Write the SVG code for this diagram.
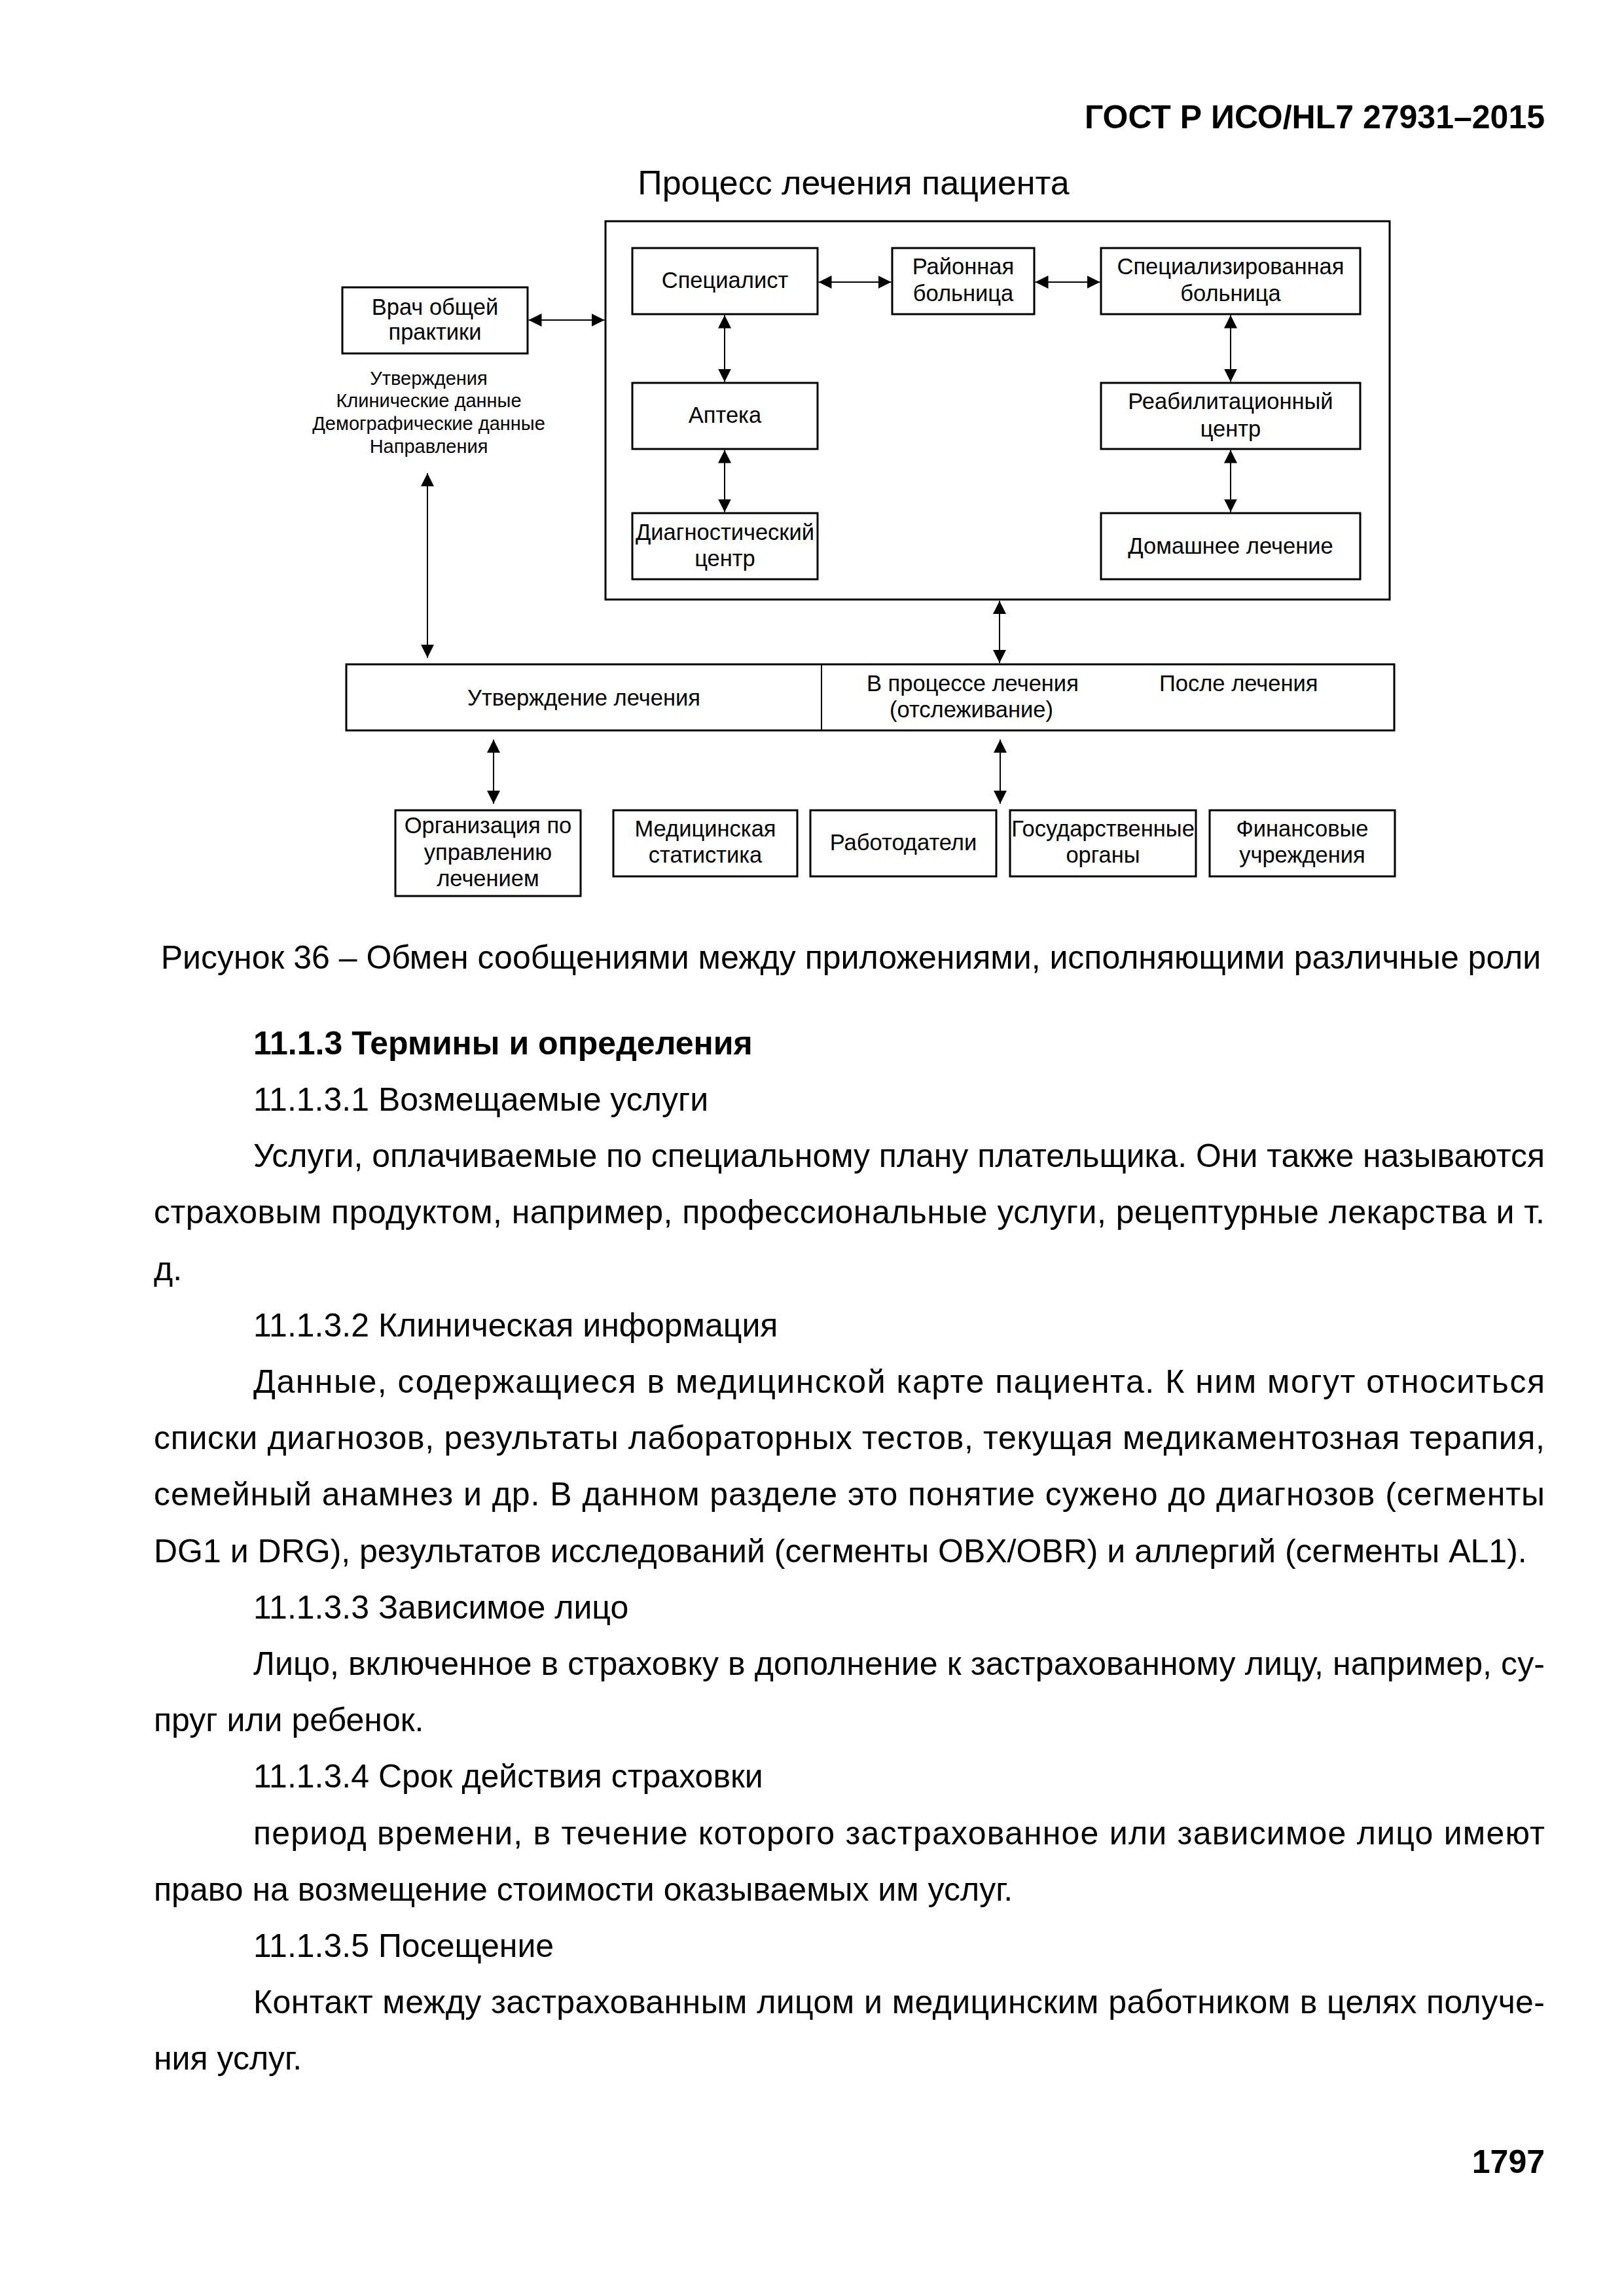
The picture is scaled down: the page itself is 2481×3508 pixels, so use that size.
<svg xmlns="http://www.w3.org/2000/svg" width="2481" height="3508" viewBox="0 0 2481 3508">
<style>
text{font-family:"Liberation Sans",Arial,sans-serif;fill:#000}
.d{font-size:34.5px;text-anchor:middle}
.ds{font-size:34.5px}
.lb{font-size:29px;text-anchor:middle}
.b{font-size:50px}
.bb{font-size:50px;font-weight:bold}
.box{fill:#fff;stroke:#000;stroke-width:3}
.c{stroke:#000;stroke-width:2;fill:none;marker-start:url(#ah);marker-end:url(#ah)}
</style>
<defs>
<marker id="ah" markerUnits="userSpaceOnUse" markerWidth="20" markerHeight="20" refX="20" refY="10" orient="auto-start-reverse" viewBox="0 0 20 20">
<path d="M0,0 L20,10 L0,20 z" fill="#000"/>
</marker>
</defs>
<rect width="2481" height="3508" fill="#fff"/>
<text class="bb" x="2360" y="196" text-anchor="end">ГОСТ Р ИСО/HL7 27931–2015</text>
<text x="1304" y="297" text-anchor="middle" style="font-size:52px">Процесс лечения пациента</text>

<g id="process">
<rect class="box" x="925" y="338" width="1198" height="578"/>
</g>
<g id="specialist"><rect class="box" x="966" y="379" width="283" height="101"/><text class="d" x="1107.5" y="440">Специалист</text></g>
<g id="district"><rect class="box" x="1363" y="379" width="217" height="101"/><text class="d" x="1471.5" y="419">Районная</text><text class="d" x="1471.5" y="460">больница</text></g>
<g id="specialized"><rect class="box" x="1682" y="379" width="396" height="101"/><text class="d" x="1880" y="419">Специализированная</text><text class="d" x="1880" y="460">больница</text></g>
<g id="pharmacy"><rect class="box" x="966" y="585" width="283" height="101"/><text class="d" x="1107.5" y="646">Аптека</text></g>
<g id="rehab"><rect class="box" x="1682" y="585" width="396" height="101"/><text class="d" x="1880" y="625">Реабилитационный</text><text class="d" x="1880" y="667">центр</text></g>
<g id="diag"><rect class="box" x="966" y="784" width="283" height="101"/><text class="d" x="1107.5" y="825">Диагностический</text><text class="d" x="1107.5" y="865">центр</text></g>
<g id="home"><rect class="box" x="1682" y="784" width="396" height="101"/><text class="d" x="1880" y="846">Домашнее лечение</text></g>
<g id="gp"><rect class="box" x="523" y="439" width="283" height="101"/><text class="d" x="664.5" y="481">Врач общей</text><text class="d" x="664.5" y="519">практики</text>
<text class="lb" x="655" y="588">Утверждения</text><text class="lb" x="655" y="622">Клинические данные</text><text class="lb" x="655" y="657">Демографические данные</text><text class="lb" x="655" y="692">Направления</text></g>
<g id="bar"><rect class="box" x="529" y="1015" width="1601" height="101"/><line x1="1255" y1="1015" x2="1255" y2="1116" stroke="#000" stroke-width="2"/>
<text class="d" x="892" y="1078">Утверждение лечения</text>
<text class="ds" x="1324" y="1056">В процессе лечения</text>
<text class="ds" x="1359" y="1096">(отслеживание)</text>
<text class="ds" x="1771" y="1056">После лечения</text></g>
<g id="org"><rect class="box" x="604" y="1238" width="283" height="131"/><text class="d" x="745.5" y="1273">Организация по</text><text class="d" x="745.5" y="1314">управлению</text><text class="d" x="745.5" y="1354">лечением</text></g>
<g id="stat"><rect class="box" x="937" y="1238" width="281" height="101"/><text class="d" x="1077.5" y="1278">Медицинская</text><text class="d" x="1077.5" y="1318">статистика</text></g>
<g id="employers"><rect class="box" x="1238" y="1238" width="284" height="101"/><text class="d" x="1380" y="1299">Работодатели</text></g>
<g id="gov"><rect class="box" x="1543" y="1238" width="284" height="101"/><text class="d" x="1685" y="1278">Государственные</text><text class="d" x="1685" y="1318">органы</text></g>
<g id="fin"><rect class="box" x="1848" y="1238" width="283" height="101"/><text class="d" x="1989.5" y="1278">Финансовые</text><text class="d" x="1989.5" y="1318">учреждения</text></g>

<g id="connectors">
<line class="c" x1="807.5" y1="489" x2="923.5" y2="489"/>
<line class="c" x1="1250.5" y1="431" x2="1361.5" y2="431"/>
<line class="c" x1="1581.5" y1="431" x2="1680.5" y2="431"/>
<line class="c" x1="1107" y1="481.5" x2="1107" y2="583.5"/>
<line class="c" x1="1107" y1="687.5" x2="1107" y2="782.5"/>
<line class="c" x1="1880" y1="481.5" x2="1880" y2="583.5"/>
<line class="c" x1="1880" y1="687.5" x2="1880" y2="782.5"/>
<line class="c" x1="653" y1="723" x2="653" y2="1005"/>
<line class="c" x1="1527" y1="918" x2="1527" y2="1013"/>
<line class="c" x1="754" y1="1130" x2="754" y2="1228"/>
<line class="c" x1="1528" y1="1130" x2="1528" y2="1228"/>
</g>

<text class="b" x="1300" y="1480" text-anchor="middle">Рисунок 36 – Обмен сообщениями между приложениями, исполняющими различные роли</text>
<text class="bb" x="387" y="1611">11.1.3 Термины и определения</text>
<text class="b" x="387" y="1697">11.1.3.1 Возмещаемые услуги</text>
<text class="b" x="387" y="1783" textLength="1973" lengthAdjust="spacing">Услуги, оплачиваемые по специальному плану плательщика. Они также называются</text>
<text class="b" x="235" y="1869" textLength="2125" lengthAdjust="spacing">страховым продуктом, например, профессиональные услуги, рецептурные лекарства и т.</text>
<text class="b" x="235" y="1956">д.</text>
<text class="b" x="387" y="2042">11.1.3.2 Клиническая информация</text>
<text class="b" x="387" y="2128" textLength="1973" lengthAdjust="spacing">Данные, содержащиеся в медицинской карте пациента. К ним могут относиться</text>
<text class="b" x="235" y="2214" textLength="2125" lengthAdjust="spacing">списки диагнозов, результаты лабораторных тестов, текущая медикаментозная терапия,</text>
<text class="b" x="235" y="2300" textLength="2125" lengthAdjust="spacing">семейный анамнез и др. В данном разделе это понятие сужено до диагнозов (сегменты</text>
<text class="b" x="235" y="2387">DG1 и DRG), результатов исследований (сегменты OBX/OBR) и аллергий (сегменты AL1).</text>
<text class="b" x="387" y="2473">11.1.3.3 Зависимое лицо</text>
<text class="b" x="387" y="2559" textLength="1973" lengthAdjust="spacing">Лицо, включенное в страховку в дополнение к застрахованному лицу, например, су-</text>
<text class="b" x="235" y="2645">пруг или ребенок.</text>
<text class="b" x="387" y="2731">11.1.3.4 Срок действия страховки</text>
<text class="b" x="387" y="2818" textLength="1973" lengthAdjust="spacing">период времени, в течение которого застрахованное или зависимое лицо имеют</text>
<text class="b" x="235" y="2904">право на возмещение стоимости оказываемых им услуг.</text>
<text class="b" x="387" y="2990">11.1.3.5 Посещение</text>
<text class="b" x="387" y="3076" textLength="1973" lengthAdjust="spacing">Контакт между застрахованным лицом и медицинским работником в целях получе-</text>
<text class="b" x="235" y="3162">ния услуг.</text>
<text class="bb" x="2360" y="3320" text-anchor="end">1797</text>
</svg>
